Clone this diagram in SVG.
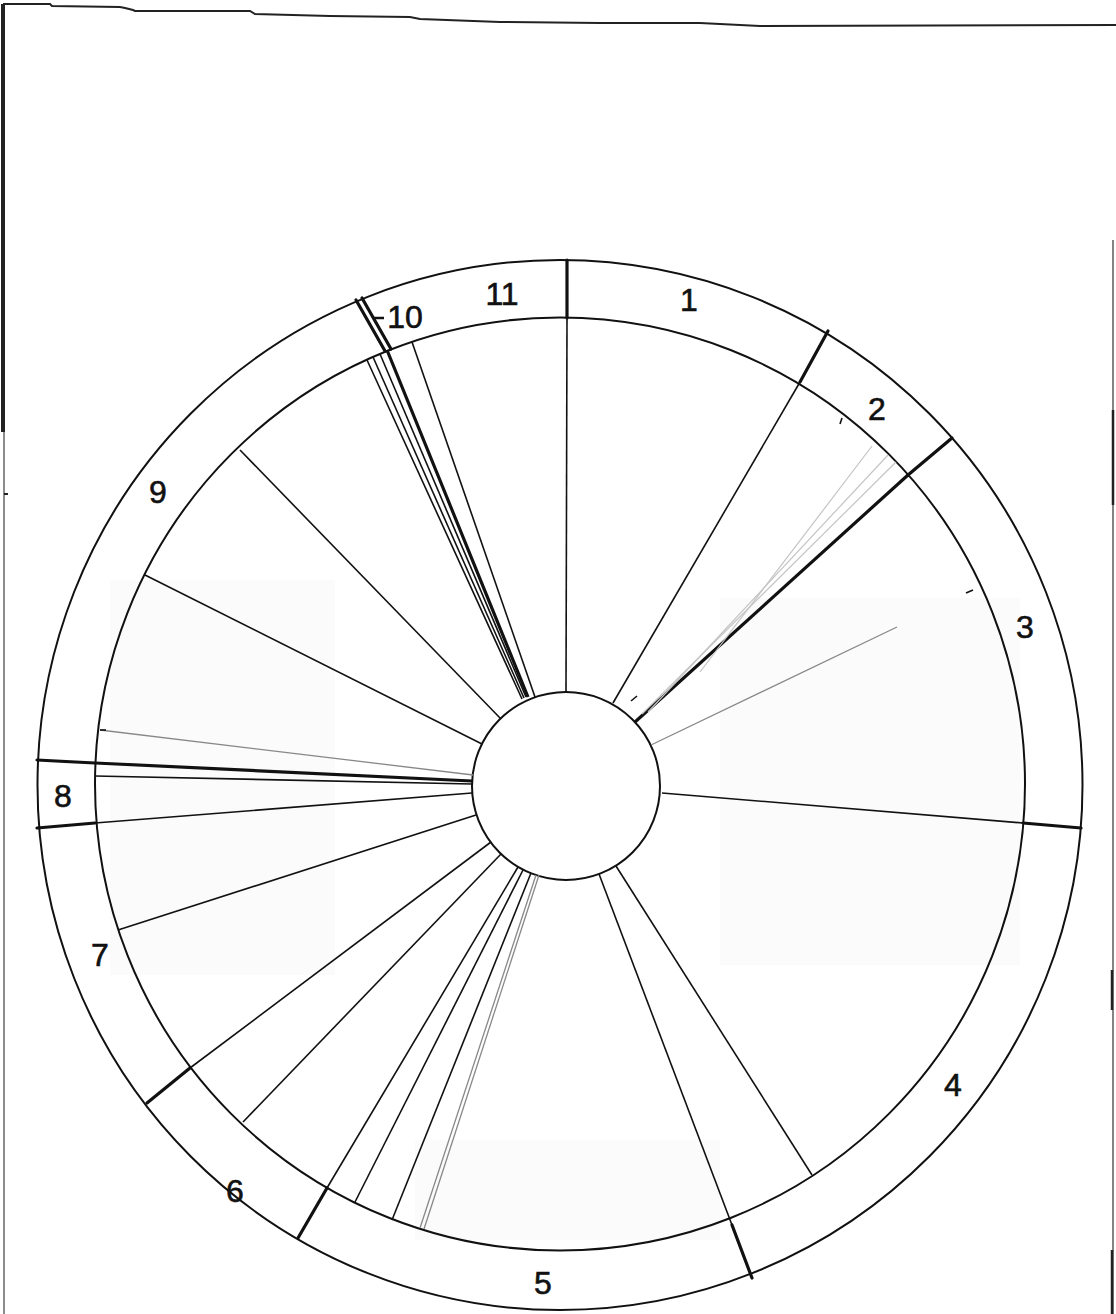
<svg xmlns="http://www.w3.org/2000/svg" width="1116" height="1314" viewBox="0 0 1116 1314">
<style>
.ring{fill:none;stroke:#111;stroke-width:2}
.div{stroke:#111;stroke-width:3.2;stroke-linecap:round}
.ln{stroke:#111;stroke-width:1.6}
.th{stroke:#111;stroke-width:3.2}
.gr{stroke:#888;stroke-width:1.3}
.lg{stroke:#c4c4c4;stroke-width:1.2}
.lbl{font-family:"Liberation Sans",Arial,sans-serif;font-size:32px;fill:#111;stroke:#111;stroke-width:0.6;text-anchor:middle}
</style>
<rect x="0" y="0" width="1116" height="1314" fill="#fff"/>
<g id="shading" fill="#fbfbfb">
<rect x="110" y="580" width="225" height="395"/>
<rect x="720" y="598" width="300" height="367"/>
<rect x="415" y="1140" width="305" height="100"/>
</g>
<g id="frame" fill="none" stroke="#222">
<polyline points="3,4 50,4 52,6 120,7 125,8 133,10 135,11 250,11 255,14 330,16 410,17 420,19 500,22 600,23 700,23 760,26 1116,25" stroke-width="2"/>
<line x1="3" y1="4" x2="3" y2="432" stroke-width="4"/>
<line x1="4" y1="432" x2="4" y2="1314" stroke-width="1.5" stroke="#666"/>
<line x1="4" y1="494" x2="8" y2="494" stroke-width="2"/>
<line x1="1113" y1="240" x2="1113" y2="1314" stroke-width="1.6" stroke="#666"/>
<line x1="1113" y1="410" x2="1113" y2="505" stroke-width="2.5"/>
<line x1="1112" y1="970" x2="1112" y2="1010" stroke-width="2.5"/>
<line x1="1112" y1="1250" x2="1112" y2="1314" stroke-width="2.5"/>
</g>
<g id="circles">
<ellipse class="ring" cx="560" cy="785" rx="522.5" ry="525"/>
<ellipse class="ring" cx="560" cy="784" rx="465" ry="466.5"/>
<circle class="ring" cx="566" cy="786" r="94"/>
</g>
<g id="connectors">
<line class="div" x1="567" y1="318" x2="567" y2="260"/>
<line class="div" x1="800" y1="382" x2="828" y2="331"/>
<line class="div" x1="908" y1="475" x2="952" y2="438"/>
<line class="div" x1="1023" y1="823" x2="1081" y2="828"/>
<line class="div" x1="732" y1="1225" x2="752" y2="1278"/>
<line class="div" x1="327" y1="1188" x2="298" y2="1238"/>
<line class="div" x1="190" y1="1068" x2="147" y2="1103"/>
<line class="div" x1="95" y1="823" x2="37" y2="828"/>
<line class="div" x1="95" y1="763" x2="37" y2="760"/>
<line class="div" x1="385" y1="351" x2="356" y2="300"/>
<line class="div" x1="391" y1="349" x2="362" y2="298"/>
<line class="ln" x1="566" y1="692" x2="567" y2="318" stroke="#444"/>
<line class="ln" x1="613" y1="703" x2="800" y2="382" stroke-width="1.8"/>
<line class="th" x1="635" y1="722" x2="908" y2="475" stroke-width="3.6"/>
<line class="ln" x1="662" y1="793" x2="1023" y2="823"/>
<line class="ln" x1="599" y1="874" x2="732" y2="1225"/>
<line class="ln" x1="518" y1="867" x2="327" y2="1188" stroke-width="2.2"/>
<line class="ln" x1="491" y1="842" x2="190" y2="1068" stroke-width="2.2"/>
<line class="ln" x1="472" y1="793" x2="95" y2="823" stroke-width="2.2"/>
<line class="th" x1="472" y1="781" x2="95" y2="763" stroke-width="2.8"/>
<line class="th" x1="528" y1="697" x2="387" y2="350" stroke-width="3.4"/>
<line class="ln" x1="526" y1="697" x2="380" y2="354"/>
<line class="ln" x1="524" y1="698" x2="373" y2="357" stroke-width="1.1"/>
<line class="ln" x1="522" y1="699" x2="367" y2="360" stroke-width="1.1"/>
<line class="ln" x1="535" y1="697" x2="412" y2="342"/>
<line class="ln" x1="501" y1="719" x2="240" y2="450"/>
<line class="ln" x1="482" y1="744" x2="145" y2="575"/>
<line class="gr" x1="473" y1="775" x2="100" y2="730" stroke-width="1.4"/>
<line class="ln" x1="472" y1="784" x2="95" y2="776" stroke-width="1.3"/>
<line class="ln" x1="476" y1="815" x2="118" y2="930"/>
<line class="ln" x1="501" y1="854" x2="243" y2="1122"/>
<line class="ln" x1="523" y1="870" x2="355" y2="1202"/>
<line class="ln" x1="531" y1="873" x2="392" y2="1220" stroke-width="1.2"/>
<line class="gr" x1="536" y1="875" x2="420" y2="1228"/>
<line class="gr" x1="539" y1="875" x2="424" y2="1229"/>
<line class="ln" x1="616" y1="866" x2="812" y2="1175"/>
<line class="gr" x1="651" y1="745" x2="897" y2="627" stroke="#999"/>
<line class="lg" x1="642" y1="714" x2="896" y2="462"/>
<line class="lg" x1="648" y1="712" x2="888" y2="455"/>
<line class="lg" x1="700" y1="672" x2="872" y2="446"/>
<line class="ln" x1="631" y1="701" x2="637" y2="696" stroke-width="1.5"/>
<line class="ln" x1="842" y1="418" x2="840" y2="424" stroke-width="1.5"/>
<line class="ln" x1="973" y1="590" x2="966" y2="593" stroke-width="1.5"/>
<line class="ln" x1="100" y1="730" x2="106" y2="730" stroke-width="1.5"/>
</g>
<g id="labels">
<text class="lbl" x="689" y="311">1</text>
<text class="lbl" x="877" y="420">2</text>
<text class="lbl" x="1025" y="638">3</text>
<text class="lbl" x="953" y="1096">4</text>
<text class="lbl" x="543" y="1294">5</text>
<text class="lbl" x="235" y="1202">6</text>
<text class="lbl" x="100" y="966">7</text>
<text class="lbl" x="63" y="807">8</text>
<text class="lbl" x="158" y="503">9</text>
<text class="lbl" x="405" y="328">10</text>
<line x1="373" y1="318" x2="384" y2="318" stroke="#111" stroke-width="2.5"/>
<text class="lbl" x="502" y="305">11</text>
</g>
</svg>
